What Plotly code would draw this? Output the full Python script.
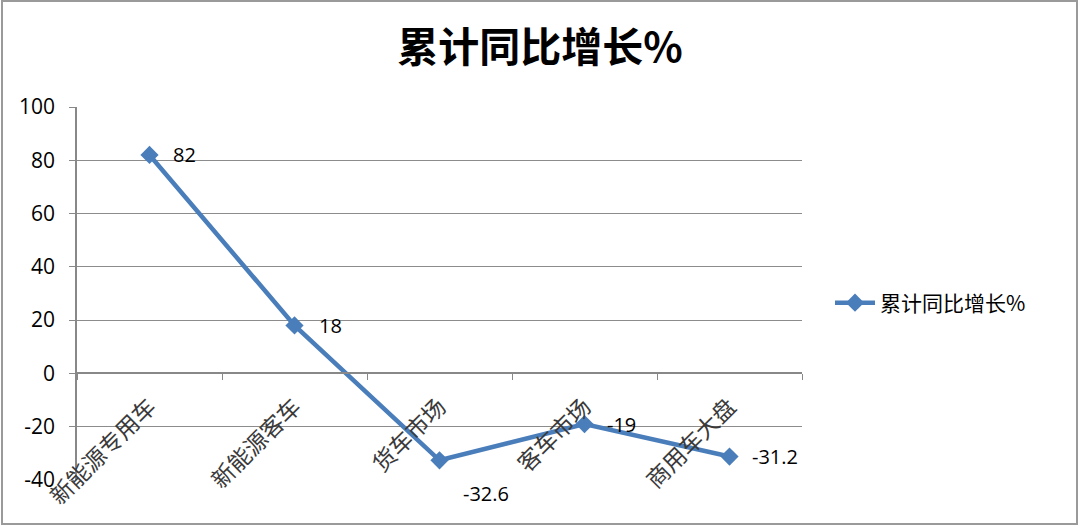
import plotly.graph_objects as go

categories = ["新能源专用车", "新能源客车", "货车市场", "客车市场", "商用车大盘"]
values = [82, 18, -32.6, -19, -31.2]
series_name = "累计同比增长%"
title_text = "累计同比增长%"
y_ticks = [100, 80, 60, 40, 20, 0, -20, -40]

# plot area in pixels
L, R, T, B = 77, 802, 107, 480
W, H = 1080, 527
pw, ph = R - L, B - T

LINE = "#4A7EBB"

fig = go.Figure()
fig.add_trace(go.Scatter(
    x=categories, y=values, mode="lines+markers", name=series_name,
    line=dict(color=LINE, width=4.5),
    marker=dict(symbol="diamond", size=14, color=LINE),
))

# data labels
label_offsets = [(21, 0), (22, 0), (21, -33), (20, 0), (20, 0)]
for c, v, (dx, dy) in zip(categories, values, label_offsets):
    fig.add_annotation(x=c, y=v, text=f"{v:g}", showarrow=False,
                       xanchor="left", yanchor="middle", xshift=dx, yshift=dy,
                       font=dict(family="Open Sans, Liberation Sans", size=20, color="#000"))

# outer border
fig.add_shape(type="rect", xref="paper", yref="paper",
              x0=(2 - L) / pw, x1=(1077 - L) / pw,
              y0=(B - 524) / ph, y1=(B - 1) / ph,
              line=dict(color="#9a9a9a", width=2), layer="below")

ymin, ymax = -40, 100
fig.update_layout(
    width=W, height=H,
    margin=dict(l=L, r=W - R, t=T, b=H - B, autoexpand=False),
    paper_bgcolor="white", plot_bgcolor="white",
    title=dict(text=title_text, x=0.5, xanchor="center", y=1 - 48 / H, yanchor="middle",
               font=dict(family="Noto Sans CJK SC", size=41, color="#000", weight="bold")),
    showlegend=True,
    legend=dict(x=(830 - L) / pw, y=(B - 303) / ph, xanchor="left", yanchor="middle",
                font=dict(family="Noto Sans CJK SC", size=21, color="#000"),
                bgcolor="rgba(0,0,0,0)", itemwidth=40),
    xaxis=dict(
        type="category", range=[-0.5, 4.5],
        anchor="free", position=(0 - ymin) / (ymax - ymin),
        showline=True, linecolor="#888", linewidth=1.5,
        ticks="outside", ticklen=6, tickcolor="#888", tickson="boundaries",
        tickangle=-45, showgrid=False, zeroline=False,
        ticklabelstandoff=10,
        tickfont=dict(family="Noto Sans CJK SC", size=23, color="#3a3a3a"),
        automargin=False,
    ),
    yaxis=dict(
        range=[ymin, ymax], tickvals=y_ticks, ticktext=[str(v) for v in y_ticks],
        showline=True, linecolor="#888", linewidth=1.5,
        ticks="outside", ticklen=6, tickcolor="#888",
        showgrid=True, gridcolor="#8c8c8c", gridwidth=1.2, zeroline=False,
        ticklabelstandoff=10,
        tickfont=dict(family="Open Sans, Liberation Sans", size=21, color="#000"),
        automargin=False,
    ),
)

fig.write_html("out.html", config={"displayModeBar": False},
               post_script="document.body.style.margin='0';document.body.style.overflow='hidden';")
